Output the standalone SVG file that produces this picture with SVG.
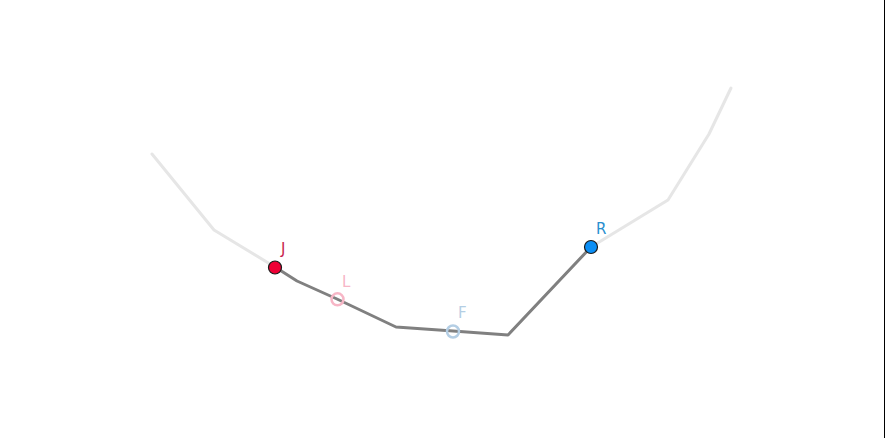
<svg xmlns="http://www.w3.org/2000/svg" width="885" height="438" viewBox="0 0 885 438">
<style>
.bg{stroke:#e6e6e6;stroke-width:3;fill:none;stroke-linejoin:round;stroke-linecap:round}
.path{stroke:#808080;stroke-width:3;fill:none;stroke-linejoin:round}
.lbl{font-family:"DejaVu Sans","Liberation Sans",sans-serif;font-size:15px}
.pt{stroke:#1a1a1a;stroke-width:1.2}
.ring{fill:none;stroke-width:2.5}
</style>
<rect width="885" height="438" fill="#ffffff"/>
<line x1="884.5" y1="0" x2="884.5" y2="438" stroke="#000000" stroke-width="1"/>
<g id="connectors">
<polyline class="bg" points="152,154 214,230 275,267"/>
<polyline class="bg" points="591,247 668,200 709,134 731,88"/>
<polyline class="path" points="275,267 297,281 337,299 396,327 453,331 508,335 591,247"/>
</g>
<g id="node-J">
<circle class="pt" cx="275" cy="267.5" r="6.5" fill="#ee0035"/>
<text class="lbl" x="281" y="254" fill="#c81e4e">J</text>
</g>
<g id="node-L">
<circle class="ring" cx="337.5" cy="299.3" r="6" stroke="#f7b6c6"/>
<text class="lbl" x="342" y="287" fill="#f7b6c6">L</text>
</g>
<g id="node-F">
<circle class="ring" cx="453" cy="331.5" r="6" stroke="#b4cee4"/>
<text class="lbl" x="458" y="318" fill="#b4cee4">F</text>
</g>
<g id="node-R">
<circle class="pt" cx="591" cy="247" r="6.5" fill="#0a8ef5"/>
<text class="lbl" x="596" y="234" fill="#2a8fcf">R</text>
</g>
</svg>
